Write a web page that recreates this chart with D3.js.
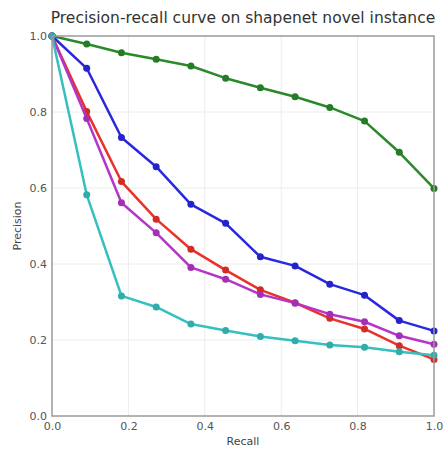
<!DOCTYPE html>
<html><head><meta charset="utf-8">
<script src="https://cdn.jsdelivr.net/npm/d3@7"></script>
<style>body{margin:0;background:#fff;}svg{display:block;font-family:"DejaVu Sans",sans-serif;}</style>
</head><body>
<script>
const recall = [0, 1/11, 2/11, 3/11, 4/11, 5/11, 6/11, 7/11, 8/11, 9/11, 10/11, 1];
const greenVals   = [1.0, 0.979, 0.956, 0.939, 0.921, 0.889, 0.864, 0.840, 0.812, 0.776, 0.694, 0.599];
const blueVals    = [1.0, 0.915, 0.733, 0.656, 0.557, 0.507, 0.419, 0.395, 0.347, 0.318, 0.251, 0.224];
const redVals     = [1.0, 0.801, 0.617, 0.518, 0.439, 0.384, 0.332, 0.298, 0.257, 0.229, 0.185, 0.149];
const magentaVals = [1.0, 0.783, 0.561, 0.482, 0.391, 0.360, 0.320, 0.297, 0.268, 0.248, 0.211, 0.189];
const cyanVals    = [1.0, 0.582, 0.316, 0.287, 0.242, 0.225, 0.209, 0.198, 0.187, 0.181, 0.169, 0.160];
const tickVals = [0, 0.2, 0.4, 0.6, 0.8, 1.0];
const tickLabels = ["0.0", "0.2", "0.4", "0.6", "0.8", "1.0"];
const seriesNames = ["green", "blue", "red", "magenta", "cyan"];
const seriesColors = ["#2a8a2a", "#2828e0", "#e8322a", "#b535c8", "#35bfbf"];
const seriesVals = [greenVals, blueVals, redVals, magentaVals, cyanVals];

const W = 446, H = 451;
const m = {left: 52, right: 12, top: 36, bottom: 35};
const svg = d3.select("body").append("svg").attr("width", W).attr("height", H);
const x = d3.scaleLinear().domain([0, 1]).range([m.left, W - m.right]);
const y = d3.scaleLinear().domain([0, 1]).range([H - m.bottom, m.top]);

// grid
const g = svg.append("g");
g.selectAll("line.gx").data(tickVals.slice(1, -1)).enter().append("line")
  .attr("x1", d => x(d)).attr("x2", d => x(d)).attr("y1", y(0)).attr("y2", y(1))
  .attr("stroke", "#ececec").attr("stroke-width", 1);
g.selectAll("line.gy").data(tickVals.slice(1, -1)).enter().append("line")
  .attr("y1", d => y(d)).attr("y2", d => y(d)).attr("x1", x(0)).attr("x2", x(1))
  .attr("stroke", "#ececec").attr("stroke-width", 1);

// lines
const line = d3.line().x((d, i) => x(recall[i])).y(d => y(d));
seriesVals.forEach((vals, k) => {
  const sg = svg.append("g").attr("class", "series-" + seriesNames[k]);
  sg.append("path").datum(vals).attr("d", line).attr("fill", "none")
    .attr("stroke", seriesColors[k]).attr("stroke-width", 2.5).attr("stroke-linejoin", "round");
  sg.selectAll("circle").data(vals).enter().append("circle")
    .attr("cx", (d, i) => x(recall[i])).attr("cy", d => y(d)).attr("r", 3.5)
    .attr("fill", d3.color(seriesColors[k]).darker(0.3));
});

// frame
svg.append("rect").attr("x", x(0)).attr("y", y(1)).attr("width", x(1) - x(0)).attr("height", y(0) - y(1))
  .attr("fill", "none").attr("stroke", "#9a9a9a").attr("stroke-width", 1.5);

// axes
const xAxis = d3.axisBottom(x).tickValues(tickVals).tickFormat((d, i) => tickLabels[i]).tickSize(0).tickPadding(6);
const yAxis = d3.axisLeft(y).tickValues(tickVals).tickFormat((d, i) => tickLabels[i]).tickSize(0).tickPadding(5);
const xa = svg.append("g").attr("transform", `translate(0,${y(0)})`).call(xAxis);
const ya = svg.append("g").attr("transform", `translate(${x(0)},0)`).call(yAxis);
[xa, ya].forEach(a => {
  a.select(".domain").remove();
  a.selectAll("text").attr("fill", "#555").style("font-size", "11px").style("font-family", "DejaVu Sans, sans-serif");
});

svg.append("text").attr("x", (x(0) + x(1)) / 2).attr("y", 445).attr("text-anchor", "middle")
  .attr("fill", "#444").style("font-size", "11px").text("Recall");
svg.append("text").attr("transform", `translate(21,${(y(0) + y(1)) / 2}) rotate(-90)`).attr("text-anchor", "middle")
  .attr("fill", "#444").style("font-size", "11px").text("Precision");
svg.append("text").attr("x", 243).attr("y", 23).attr("text-anchor", "middle")
  .attr("fill", "#333").style("font-size", "15.5px").text("Precision-recall curve on shapenet novel instance");
</script>
</body></html>
